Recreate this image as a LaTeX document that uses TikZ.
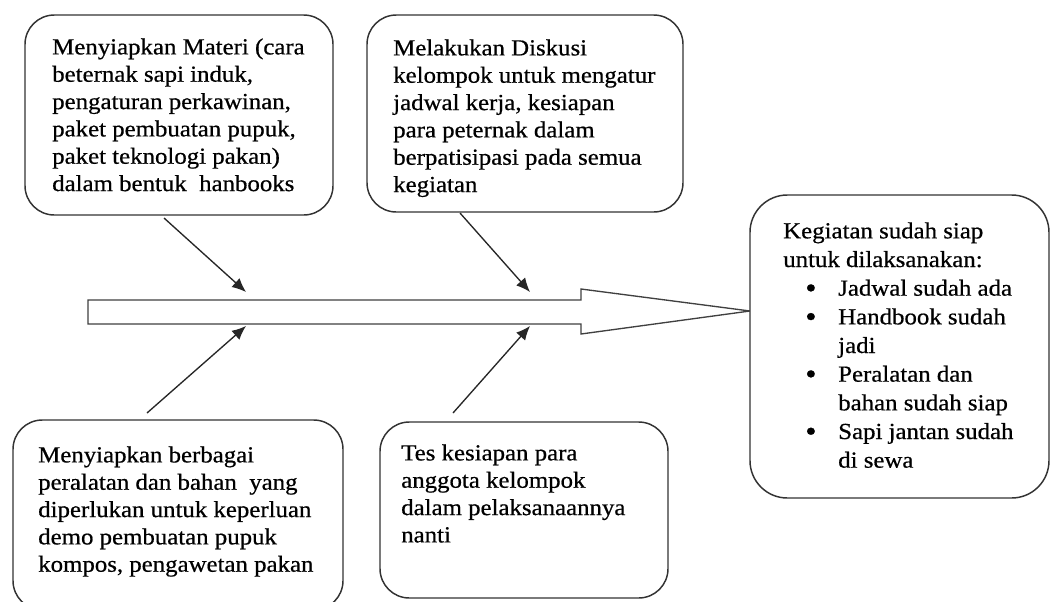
\documentclass[tikz,border=0pt]{standalone}
\usepackage{fontspec}
\setmainfont{Liberation Serif}[FakeStretch=1.08,FakeBold=0.6]
\usetikzlibrary{arrows.meta}
\newcommand{\bigbul}{\hspace*{16.5pt}\makebox[24.75pt][l]{\raisebox{-1.6pt}{\scalebox{1.3}{\textbullet}}}}
\begin{document}
\begin{tikzpicture}[x=0.75pt,y=-0.75pt,
  box/.style={draw=black!80, line width=1.1pt, rounded corners=22pt, fill=white, inner sep=0pt},
  txt/.style={anchor=north west, inner sep=0pt, align=left, font=\fontsize{17.25}{20.5}\selectfont},
  feed/.style={draw=black!85, line width=1pt, -{Latex[length=10.5pt,width=9pt]}},
  spine/.style={draw=black!75, line width=1pt, fill=white}]
\useasboundingbox (0,0) rectangle (1051,601);
\clip (0,0) rectangle (1051,601);
\fill[white] (0,0) rectangle (1051,601);

% boxes
\node[box, minimum width=231pt, minimum height=150pt] (b1) at (179,115) {};
\node[box, minimum width=237pt, minimum height=147.75pt] (b2) at (525,113.5) {};
\node[box, minimum width=247.5pt, minimum height=142.5pt] (b4) at (178,515) {};
\node[box, minimum width=216pt, minimum height=132pt] (b5) at (524,510) {};

% spine
\draw[spine] (88,300) -- (581,300) -- (581,289) -- (750,311) -- (581,334) -- (581,324) -- (88,324) -- cycle;
\coordinate (tip) at (750,311);

\node[box, rounded corners=28pt, minimum width=224.25pt, minimum height=227.25pt] (b3) at (899.5,346.5) {};

% connector ends
\coordinate (s1) at (164,218);
\coordinate (s2) at (460,213);
\coordinate (s3) at (147,413);
\coordinate (s4) at (453,413);
\coordinate (t1) at (246,292);
\coordinate (t2) at (530,292);
\coordinate (t3) at (246,326);
\coordinate (t4) at (530,326);
\draw[feed] (s1) -- (t1);
\draw[feed] (s2) -- (t2);
\draw[feed] (s3) -- (t3);
\draw[feed] (s4) -- (t4);

% texts
\node[txt] (x1) at (52,35) {\strut Menyiapkan Materi (cara\\beternak sapi induk,\\pengaturan perkawinan,\\paket pembuatan pupuk,\\paket teknologi pakan)\\dalam bentuk \ hanbooks};
\node[txt] (x2) at (393,36) {\strut Melakukan Diskusi\\kelompok untuk mengatur\\jadwal kerja, kesiapan\\para peternak dalam\\berpatisipasi pada semua\\kegiatan};
\node[txt] (x4) at (38,443) {\strut Menyiapkan berbagai\\peralatan dan bahan \ yang\\diperlukan untuk keperluan\\demo pembuatan pupuk\\kompos, pengawetan pakan};
\node[txt] (x5) at (401,441) {\strut Tes kesiapan para\\anggota kelompok\\dalam pelaksanaannya\\nanti};
\node[txt, font=\fontsize{17.25}{21.5}\selectfont] (x3) at (783,218) {\strut Kegiatan sudah siap\\untuk dilaksanakan:\\
\bigbul Jadwal sudah ada\\
\bigbul Handbook sudah\\
\hspace*{41.25pt}jadi\\
\bigbul Peralatan dan\\
\hspace*{41.25pt}bahan sudah siap\\
\bigbul Sapi jantan sudah\\
\hspace*{41.25pt}di sewa};
\end{tikzpicture}
\end{document}
